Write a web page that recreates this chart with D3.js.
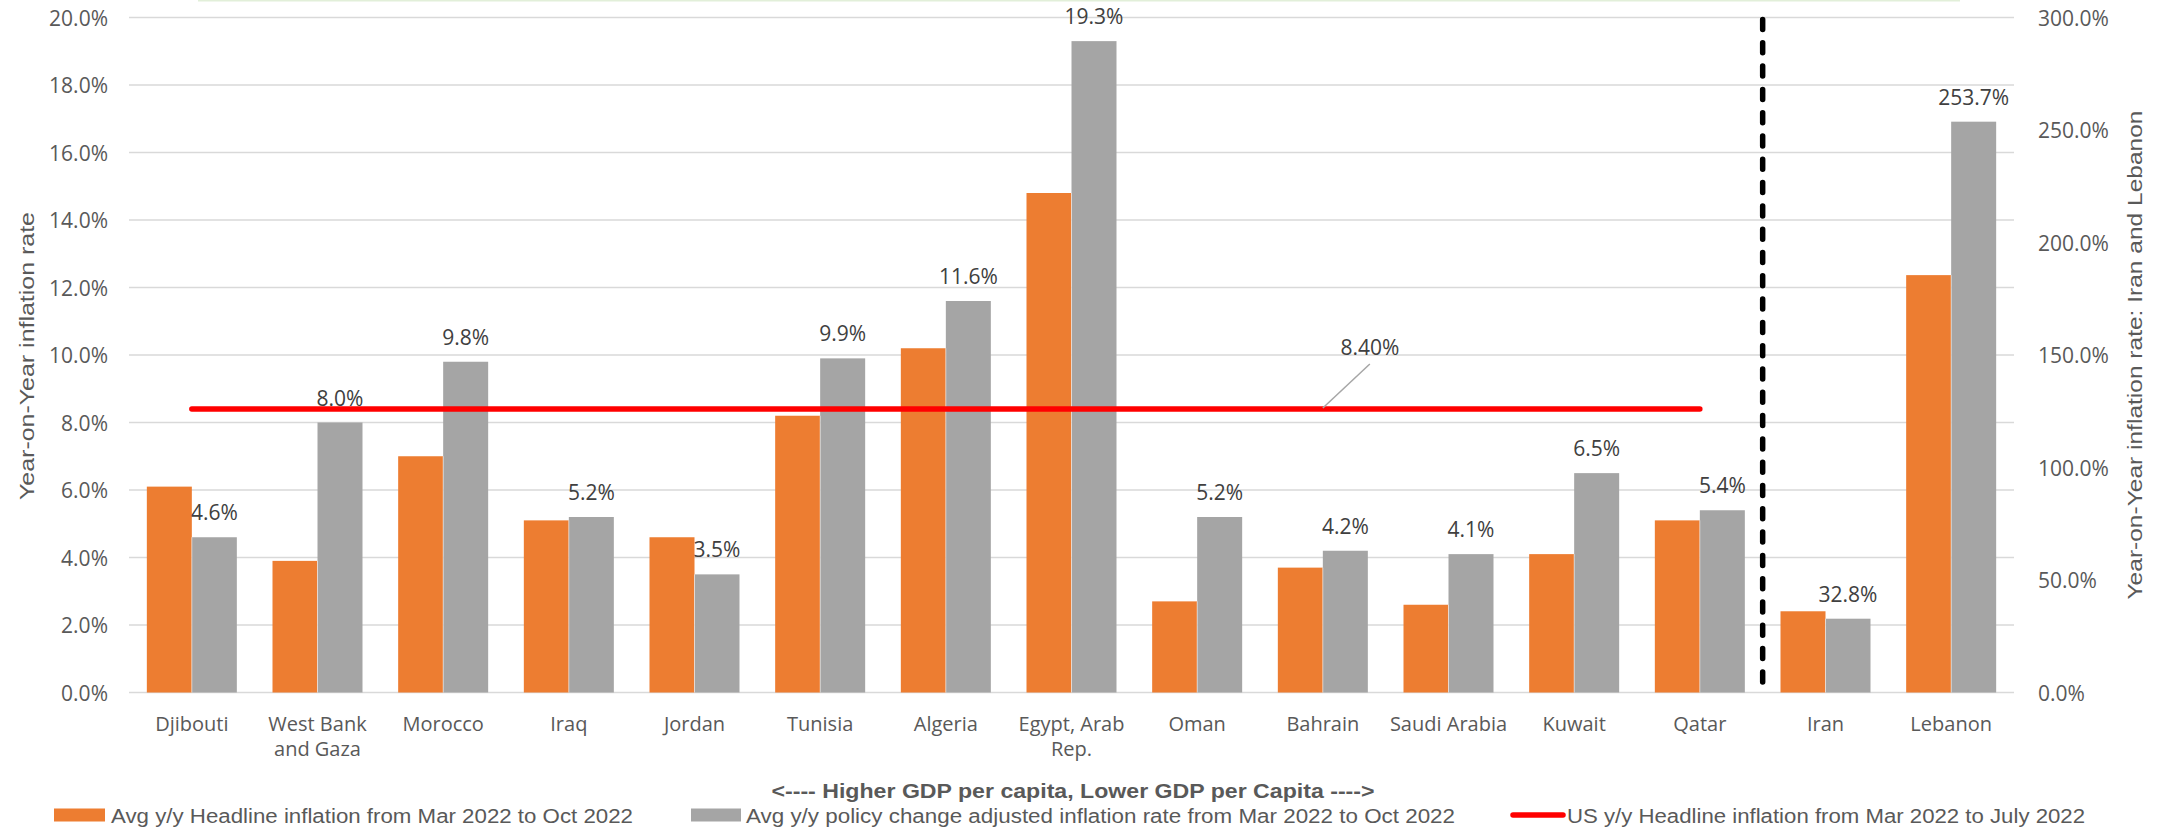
<!DOCTYPE html>
<html>
<head>
<meta charset="utf-8">
<script src="https://cdn.jsdelivr.net/npm/d3@7"></script>
<style>
  html, body { margin: 0; padding: 0; background: #ffffff; }
  svg { display: block; }
</style>
</head>
<body>
<svg id="chart" width="2167" height="829"></svg>
<script>
// Countries, ordered from higher to lower GDP per capita
const categories = ["Djibouti", "West Bank and Gaza", "Morocco", "Iraq", "Jordan", "Tunisia",
  "Algeria", "Egypt, Arab Rep.", "Oman", "Bahrain", "Saudi Arabia", "Kuwait", "Qatar", "Iran", "Lebanon"];
const categoryLines = [["Djibouti"], ["West Bank", "and Gaza"], ["Morocco"], ["Iraq"], ["Jordan"], ["Tunisia"],
  ["Algeria"], ["Egypt, Arab", "Rep."], ["Oman"], ["Bahrain"], ["Saudi Arabia"], ["Kuwait"], ["Qatar"], ["Iran"], ["Lebanon"]];
// Countries plotted against the secondary (right) axis
const secondaryCountries = ["Iran", "Lebanon"];

// Avg y/y headline inflation, Mar 2022 - Oct 2022 (%)
const headline = [6.1, 3.9, 7.0, 5.1, 4.6, 8.2, 10.2, 14.8, 2.7, 3.7, 2.6, 4.1, 5.1, 36.1, 185.5];
// Avg y/y policy change adjusted inflation, Mar 2022 - Oct 2022 (%)
const adjusted = [4.6, 8.0, 9.8, 5.2, 3.5, 9.9, 11.6, 19.3, 5.2, 4.2, 4.1, 6.5, 5.4, 32.8, 253.7];
// US y/y headline inflation, Mar 2022 - July 2022 (%), shown across the primary-axis countries
const usHeadline = 8.4;
const usLineCountries = categories.slice(0, 13);
const usLabelCountry = "Bahrain";

const leftTicks = [0, 2, 4, 6, 8, 10, 12, 14, 16, 18, 20];
const rightTicks = [0, 50, 100, 150, 200, 250, 300];

const seriesNames = [
  "Avg y/y Headline inflation from Mar 2022 to Oct 2022",
  "Avg y/y policy change adjusted inflation rate  from Mar 2022 to Oct 2022",
  "US y/y Headline inflation from Mar 2022 to July 2022"
];
const leftTitle = "Year-on-Year inflation rate";
const rightTitle = "Year-on-Year inflation rate: Iran and Lebanon";
const xTitle = "<---- Higher GDP per capita, Lower GDP per Capita ---->";

const ORANGE = "#ed7d31", GRAY = "#a5a5a5", RED = "#ff0000";
const TEXT = "#595959", LABEL = "#404040";
const SANS = "'Open Sans', 'DejaVu Sans', sans-serif";
const NARROW = "'Liberation Sans', Arial, sans-serif";

const svg = d3.select("#chart");
const plot = { left: 129, right: 2014, top: 17.5, bottom: 692.5 };

const x = d3.scaleBand().domain(categories).range([plot.left, plot.right])
  .paddingInner(0.2838).paddingOuter(0.1419);
const xSub = d3.scaleBand().domain(["headline", "adjusted"]).range([0, x.bandwidth()]);
const yLeft = d3.scaleLinear().domain([0, 20]).range([plot.bottom, plot.top]);
const yRight = d3.scaleLinear().domain([0, 300]).range([plot.bottom, plot.top]);
const yFor = c => secondaryCountries.includes(c) ? yRight : yLeft;
const center = c => x(c) + x.bandwidth() / 2;

// faint rule along the top edge
svg.append("rect").attr("x", 198).attr("y", 0).attr("width", 1762).attr("height", 1.5)
  .attr("fill", "#e2efd9");

// gridlines
svg.append("g").selectAll("line").data(leftTicks).join("line")
  .attr("x1", plot.left).attr("x2", plot.right)
  .attr("y1", d => yLeft(d)).attr("y2", d => yLeft(d))
  .attr("stroke", "#d9d9d9").attr("stroke-width", 1.6);

// left axis
const leftAxis = svg.append("g").attr("transform", `translate(${plot.left - 21},0)`)
  .call(d3.axisLeft(yLeft).tickValues(leftTicks).tickSize(0).tickPadding(0)
    .tickFormat(d => d.toFixed(1) + "%"));
leftAxis.select(".domain").remove();
leftAxis.selectAll("text").attr("font-family", SANS).attr("font-size", 21)
  .attr("fill", TEXT).attr("dy", "0.36em");

// right axis
const rightAxis = svg.append("g").attr("transform", `translate(${plot.right + 24},0)`)
  .call(d3.axisRight(yRight).tickValues(rightTicks).tickSize(0).tickPadding(0)
    .tickFormat(d => d.toFixed(1) + "%"));
rightAxis.select(".domain").remove();
rightAxis.selectAll("text").attr("font-family", SANS).attr("font-size", 21)
  .attr("fill", TEXT).attr("dy", "0.36em");

// bars
const rows = categories.map((c, i) => ({ c, headline: headline[i], adjusted: adjusted[i] }));
const groups = svg.append("g").selectAll("g").data(rows).join("g")
  .attr("transform", d => `translate(${x(d.c)},0)`);
groups.append("rect")
  .attr("x", xSub("headline")).attr("width", xSub.bandwidth())
  .attr("y", d => yFor(d.c)(d.headline))
  .attr("height", d => plot.bottom - yFor(d.c)(d.headline))
  .attr("fill", ORANGE);
groups.append("rect")
  .attr("x", xSub("adjusted")).attr("width", xSub.bandwidth())
  .attr("y", d => yFor(d.c)(d.adjusted))
  .attr("height", d => plot.bottom - yFor(d.c)(d.adjusted))
  .attr("fill", GRAY);
// thin light seam between paired bars
groups.append("line")
  .attr("x1", xSub("adjusted")).attr("x2", xSub("adjusted"))
  .attr("y1", d => yFor(d.c)(Math.min(d.headline, d.adjusted)))
  .attr("y2", plot.bottom)
  .attr("stroke", "#ffffff").attr("stroke-opacity", 0.5).attr("stroke-width", 1);

// value labels on the adjusted bars
groups.append("text")
  .attr("x", xSub("adjusted") + xSub.bandwidth() / 2)
  .attr("y", d => yFor(d.c)(d.adjusted) - 17)
  .attr("text-anchor", "middle")
  .attr("font-family", SANS).attr("font-size", 21).attr("fill", LABEL)
  .text(d => d.adjusted.toFixed(1) + "%");

// US headline inflation line
const usLine = d3.line().x(c => center(c)).y(() => yLeft(usHeadline));
svg.append("path").attr("d", usLine(usLineCountries))
  .attr("fill", "none").attr("stroke", RED).attr("stroke-width", 5.5)
  .attr("stroke-linecap", "round");

// callout for the US line
const calloutX = center(usLabelCountry), calloutY = yLeft(usHeadline);
svg.append("line")
  .attr("x1", calloutX).attr("y1", calloutY - 1)
  .attr("x2", calloutX + 47).attr("y2", calloutY - 45)
  .attr("stroke", "#a6a6a6").attr("stroke-width", 1.5);
svg.append("text")
  .attr("x", calloutX + 47).attr("y", calloutY - 54)
  .attr("text-anchor", "middle")
  .attr("font-family", SANS).attr("font-size", 21).attr("fill", LABEL)
  .text(usHeadline.toFixed(2) + "%");

// separator between primary- and secondary-axis countries
const sepX = x("Iran") - (x.step() - x.bandwidth()) / 2;
svg.append("line")
  .attr("x1", sepX).attr("x2", sepX)
  .attr("y1", plot.top + 2).attr("y2", plot.bottom)
  .attr("stroke", "#000000").attr("stroke-width", 5.5)
  .attr("stroke-linecap", "round").attr("stroke-dasharray", "10 13.3");

// category labels
const catG = svg.append("g").selectAll("text").data(categories).join("text")
  .attr("x", c => center(c)).attr("y", 731)
  .attr("text-anchor", "middle")
  .attr("font-family", SANS).attr("font-size", 20).attr("fill", TEXT);
catG.selectAll("tspan").data((c, i) => categoryLines[i]).join("tspan")
  .attr("x", function () { return d3.select(this.parentNode).attr("x"); })
  .attr("dy", (d, j) => j === 0 ? 0 : 25)
  .text(d => d);

// axis titles
svg.append("text")
  .attr("transform", "translate(34,356) rotate(-90)")
  .attr("text-anchor", "middle")
  .attr("font-family", NARROW).attr("font-size", 21).attr("fill", TEXT)
  .attr("textLength", 288).attr("lengthAdjust", "spacingAndGlyphs")
  .text(leftTitle);
svg.append("text")
  .attr("transform", "translate(2142,355) rotate(-90)")
  .attr("text-anchor", "middle")
  .attr("font-family", NARROW).attr("font-size", 21).attr("fill", TEXT)
  .attr("textLength", 489).attr("lengthAdjust", "spacingAndGlyphs")
  .text(rightTitle);
svg.append("text")
  .attr("x", 1073).attr("y", 798)
  .attr("text-anchor", "middle")
  .attr("font-family", NARROW).attr("font-size", 20).attr("font-weight", "bold").attr("fill", TEXT)
  .attr("textLength", 603).attr("lengthAdjust", "spacingAndGlyphs")
  .text(xTitle);

// legend
const legendY = 815;
const legendItems = [
  { name: seriesNames[0], kind: "rect", color: ORANGE, kx: 54, kw: 51, tx: 111, tw: 522 },
  { name: seriesNames[1], kind: "rect", color: GRAY, kx: 691, kw: 50, tx: 746, tw: 709 },
  { name: seriesNames[2], kind: "line", color: RED, kx: 1513, kw: 50, tx: 1567, tw: 518 }
];
const lg = svg.append("g").selectAll("g").data(legendItems).join("g");
lg.filter(d => d.kind === "rect").append("rect")
  .attr("x", d => d.kx).attr("y", legendY - 6.5).attr("width", d => d.kw).attr("height", 13)
  .attr("fill", d => d.color);
lg.filter(d => d.kind === "line").append("line")
  .attr("x1", d => d.kx).attr("x2", d => d.kx + d.kw)
  .attr("y1", legendY).attr("y2", legendY)
  .attr("stroke", d => d.color).attr("stroke-width", 5.5).attr("stroke-linecap", "round");
lg.append("text")
  .attr("x", d => d.tx).attr("y", legendY + 8)
  .attr("font-family", NARROW).attr("font-size", 20).attr("fill", TEXT)
  .attr("textLength", d => d.tw).attr("lengthAdjust", "spacingAndGlyphs")
  .text(d => d.name);
</script>
</body>
</html>
